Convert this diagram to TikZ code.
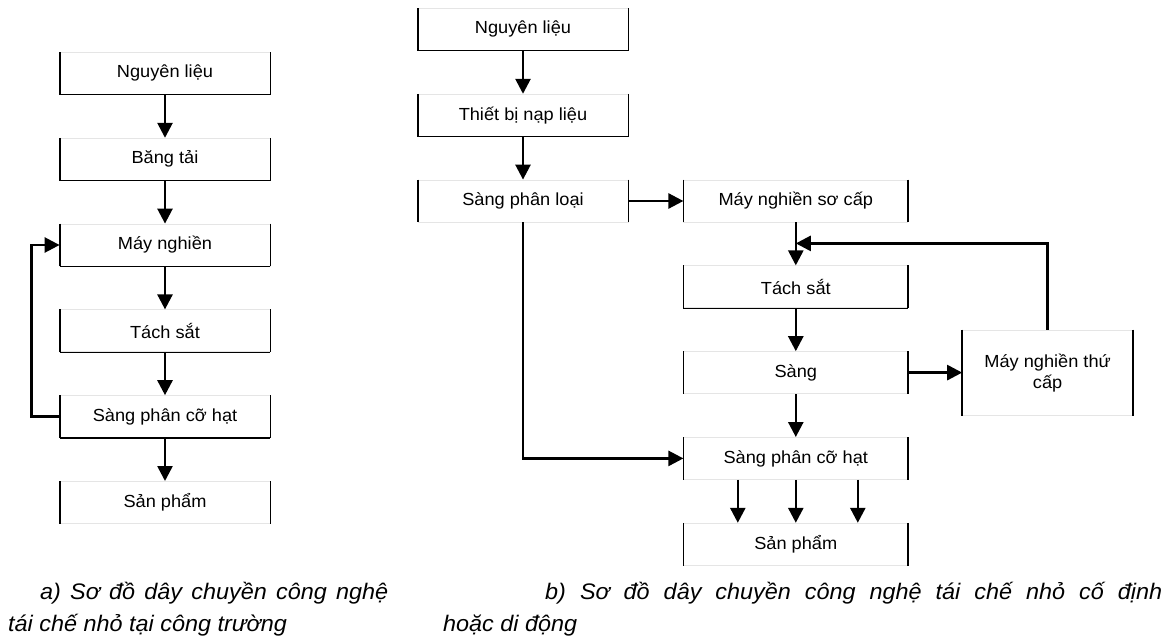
\documentclass[tikz,border=0pt]{standalone}
\usepackage{fontspec}
\setmainfont{Liberation Sans}[FakeStretch=1.04]
\usetikzlibrary{arrows.meta,positioning}
\hyphenpenalty=10000
\exhyphenpenalty=10000

\begin{document}
\begin{tikzpicture}[x=1pt,y=-1pt,
  box/.style={draw=black!10,line width=0.8pt,minimum width=210pt,minimum height=42pt,inner sep=0pt,font=\fontsize{17.5}{21}\selectfont},
  side/.style={line width=1.8pt},
  flow/.style={line width=2.6pt,-{Triangle[length=15pt,width=15pt]}},
  caption/.style={inner sep=0pt,anchor=north west,align=justify,font=\itshape\fontsize{22.5}{32}\selectfont},
  node distance=43pt
]
\useasboundingbox (0,0) rectangle (1173,637);
\node[box,anchor=north] (a1) at (165,52) {Nguyên liệu};
\node[box,below=of a1] (a2) {Băng tải};
\node[box,below=of a2] (a3) {Máy nghiền};
\node[box,below=of a3] (a4) {Tách sắt};
\node[box,below=of a4] (a5) {Sàng phân cỡ hạt};
\node[box,below=of a5] (a6) {Sản phẩm};
\node[box,anchor=north] (b1) at (523,8) {Nguyên liệu};
\node[box,below=of b1] (b2) {Thiết bị nạp liệu};
\node[box,below=of b2] (b3) {Sàng phân loại};
\node[box,minimum width=224pt,right=55pt of b3] (c1) {Máy nghiền sơ cấp};
\node[box,minimum width=224pt,below=of c1] (c2) {Tách sắt};
\node[box,minimum width=224pt,below=of c2] (c3) {Sàng};
\node[box,minimum width=170pt,minimum height=85pt,align=center,right=54pt of c3] (c4) {Máy nghiền thứ\\cấp};
\node[box,minimum width=224pt,below=of c3] (c5) {Sàng phân cỡ hạt};
\node[box,minimum width=224pt,below=of c5] (c6) {Sản phẩm};
\foreach \n in {a1,a2,a3,a4,a5,a6,b1,b2,b3,c1,c2,c3,c4,c5,c6}
  \draw[side] (\n.north west) -- (\n.south west) (\n.north east) -- (\n.south east);
\foreach \n in {a1,a2,a3,a4,a5,b1,b2,c2}
  \draw[line width=1.2pt] (\n.south west) -- (\n.south east);
\draw[flow] (a1) -- (a2);
\draw[flow] (a2) -- (a3);
\draw[flow] (a3) -- (a4);
\draw[flow] (a4) -- (a5);
\draw[flow] (a5) -- (a6);
\draw[flow] (a5.west) -- ++(-28,0) |- (a3.west);
\draw[flow] (b1) -- (b2);
\draw[flow] (b2) -- (b3);
\draw[flow] (b3) -- (c1);
\draw[flow] (c1) -- (c2);
\draw[flow] (c2) -- (c3);
\draw[flow] (c3) -- (c4);
\draw[flow] (c4.north) |- ([yshift=-21pt]c1.south);
\draw[flow] (c3) -- (c5);
\draw[flow] (b3.south) |- (c5.west);
\foreach \d in {-58,0,62}
  \draw[flow] ([xshift=\d pt]c5.south) -- ([xshift=\d pt]c6.north);
\node[caption,text width=380pt] (capa) at (8,582) {\hspace*{32pt}a) Sơ đồ dây chuyền công nghệ tái chế nhỏ tại công trường};
\node[caption,text width=719pt] (capb) at (443,582) {\hspace*{102pt}b) Sơ đồ dây chuyền công nghệ tái chế nhỏ cố định\linebreak hoặc di động};
\end{tikzpicture}
\end{document}
